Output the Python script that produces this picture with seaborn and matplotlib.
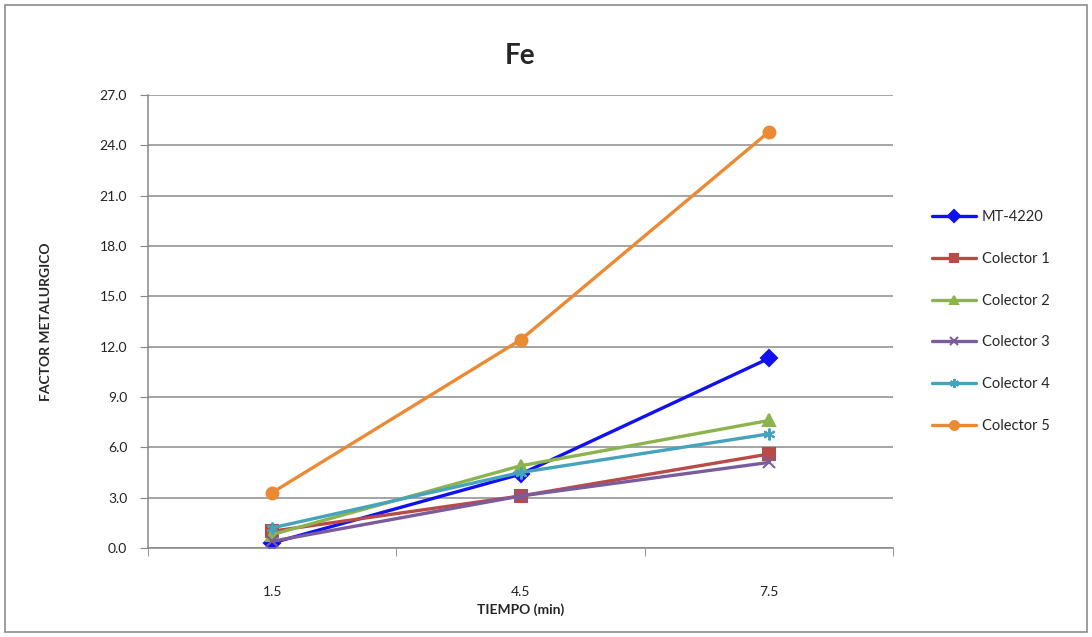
import pandas as pd
import seaborn as sns
import matplotlib.pyplot as plt
from matplotlib.patches import Rectangle

# datos
tiempos = ["1.5", "4.5", "7.5"]
series = ["MT-4220", "Colector 1", "Colector 2", "Colector 3", "Colector 4", "Colector 5"]
mt_4220 = [0.3, 4.4, 11.3]
colector_1 = [1.0, 3.1, 5.6]
colector_2 = [0.8, 4.9, 7.6]
colector_3 = [0.4, 3.1, 5.1]
colector_4 = [1.2, 4.5, 6.8]
colector_5 = [3.3, 12.4, 24.8]
y_ticks = [0, 3, 6, 9, 12, 15, 18, 21, 24, 27]

valores = [mt_4220, colector_1, colector_2, colector_3, colector_4, colector_5]
filas = []
for nombre, vals in zip(series, valores):
    for t, v in zip(tiempos, vals):
        filas.append({"TIEMPO": t, "FACTOR": v, "serie": nombre})
df = pd.DataFrame(filas)

colores = {"MT-4220": "#1010F0", "Colector 1": "#B84A47", "Colector 2": "#8DB34F",
           "Colector 3": "#7A5C9C", "Colector 4": "#45A3BD", "Colector 5": "#EB8A35"}
marcadores = {"MT-4220": "D", "Colector 1": "s", "Colector 2": "^",
              "Colector 3": "x", "Colector 4": (6, 2, 0), "Colector 5": "o"}

sns.set_style("white")
plt.rcParams["font.family"] = ["Lato", "DejaVu Sans"]

fig = plt.figure(figsize=(10.92, 6.37), dpi=100)
ax = fig.add_axes([0.1355, 0.1397, 0.6823, 0.7112])

# una llamada por serie (marcadores rellenos y de linea no se pueden mezclar)
for nombre in series:
    sub = df[df["serie"] == nombre]
    sns.lineplot(data=sub, x="TIEMPO", y="FACTOR", color=colores[nombre],
                 marker=marcadores[nombre], sort=False, label=nombre,
                 linewidth=2.4, markersize=8.5, markeredgewidth=1.5,
                 markeredgecolor=colores[nombre], ax=ax)

ax.set_xlim(-0.5, 2.5)
ax.set_ylim(0, 27)
ax.set_yticks(y_ticks)
ax.set_yticklabels([f"{v:.1f}" for v in y_ticks])
ax.set_xticks([0, 1, 2])
ax.set_xticks([-0.5, 0.5, 1.5, 2.5], minor=True)
ax.tick_params(axis="x", which="major", length=0, pad=27, labelsize=10, labelcolor="#222222")
ax.tick_params(axis="x", which="minor", length=6, color="#868686", direction="out", bottom=True)
ax.tick_params(axis="y", length=6, color="#868686", direction="out", labelsize=10,
               pad=9, labelcolor="#222222", left=True)

ax.yaxis.grid(True, color="#8C8C8C", linewidth=1.1)
ax.set_axisbelow(True)
for s in ["top", "right"]:
    ax.spines[s].set_visible(False)
for s in ["left", "bottom"]:
    ax.spines[s].set_color("#868686")
    ax.spines[s].set_linewidth(1.1)

ax.set_xlabel("TIEMPO (min)", fontsize=10, fontweight="bold", labelpad=4)
ax.set_ylabel("FACTOR METALURGICO", fontsize=10, fontweight="bold", labelpad=34)
ax.set_title("Fe", fontsize=20, fontweight="bold", pad=22)

ax.legend(loc="center left", bbox_to_anchor=(1.035, 0.5), frameon=False,
          fontsize=10.5, labelspacing=1.9, handlelength=3.0, handletextpad=0.4,
          markerscale=0.75)

# borde exterior del grafico
fig.add_artist(Rectangle((0.005, 0.008), 0.99, 0.984, transform=fig.transFigure,
                         fill=False, edgecolor="#8C8C8C", linewidth=1.2))

fig.savefig("out.png", dpi=100)
